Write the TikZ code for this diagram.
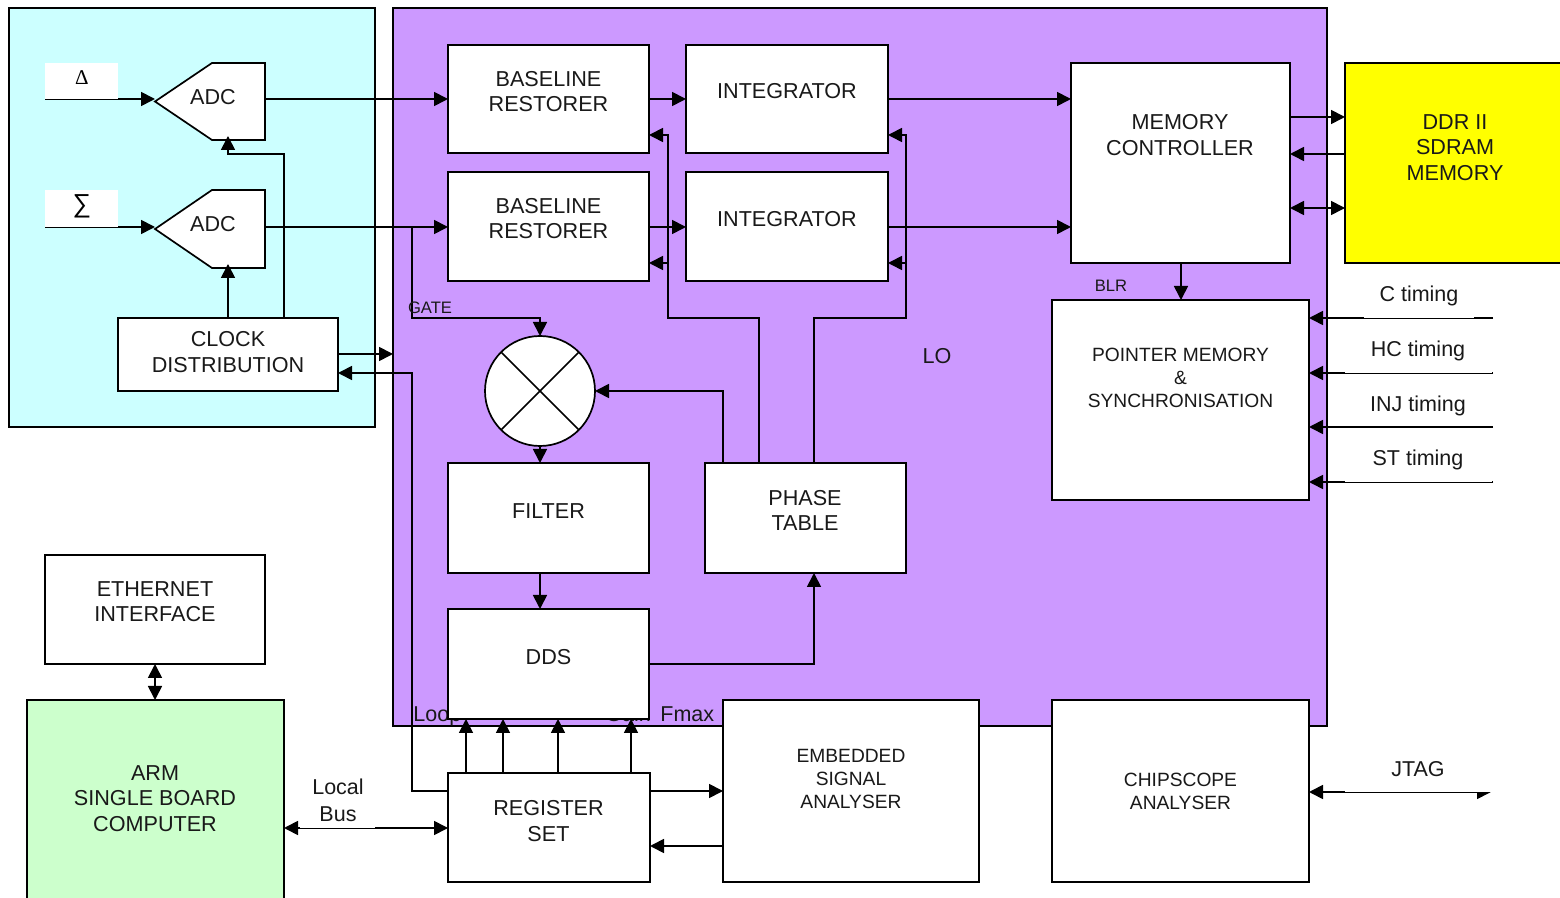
\documentclass[tikz,border=0pt]{standalone}
\usepackage{fontspec}
\setmainfont{Liberation Sans}
\newfontfamily\symfont{Liberation Serif}
\usetikzlibrary{arrows.meta}
\definecolor{cyanbg}{HTML}{CCFFFF}
\definecolor{purplebg}{HTML}{CC99FF}
\definecolor{greenbg}{HTML}{CCFFCC}
\definecolor{yellowbg}{HTML}{FFFF00}
\tikzset{
  panel/.style={draw=black,line width=1pt},
  bx/.style n args={2}{draw=black,fill=white,line width=0.85pt,inner sep=0pt,outer sep=0pt,minimum width=#1*0.5pt,minimum height=#2*0.5pt},
  phantombox/.style n args={2}{inner sep=0pt,outer sep=0pt,minimum width=#1*0.5pt,minimum height=#2*0.5pt},
  big/.style={inner sep=0pt,align=center,text=black!90,font=\fontsize{10.8}{12.6}\selectfont},
  small/.style={inner sep=0pt,align=center,text=black!90,font=\fontsize{9.6}{11.5}\selectfont},
  tiny/.style={inner sep=0pt,text=black!90,font=\fontsize{8.3}{10}\selectfont},
  lab/.style={inner sep=0pt,align=center,text=black!90,font=\fontsize{10.75}{13.5}\selectfont},
  wire/.style={draw=black,line width=0.85pt},
  arr/.style={wire,-{Triangle[length=7pt,width=7pt]}},
  darr/.style={wire,{Triangle[length=7pt,width=7pt]}-{Triangle[length=7pt,width=7pt]}},
}
\begin{document}
\begin{tikzpicture}[x=0.5pt,y=-0.5pt]
\clip (0,0) rectangle (1560,898);
\fill[white] (0,0) rectangle (1560,898);
% panels
\node[bx={366}{419},fill=cyanbg,panel] (adcpanel) at (192,217.5) {};
\node[bx={934}{718},fill=purplebg,panel] (fpga) at (860,367) {};
% free wire ends
\coordinate (dIn) at (45,99);
\coordinate (sIn) at (45,227);
\coordinate (cEnd) at (1493,318);
\coordinate (hEnd) at (1493,373);
\coordinate (iEnd) at (1493,427);
\coordinate (stEnd) at (1493,482);
\coordinate (jEnd) at (1491,792);
% labels partly hidden beneath the DDS block
\node[lab,anchor=base west] (loopT) at (413,722) {Loop};
\node[lab,anchor=base west] (gainT) at (605,722) {Gain};
\node[lab,anchor=base west] (fmaxT) at (660,722) {Fmax};
% boxes
\node[bx={201}{108}] (bl1) at (548.5,99) {};
\node[bx={201}{109}] (bl2) at (548.5,226.5) {};
\node[bx={202}{108}] (int1) at (787,99) {};
\node[bx={202}{109}] (int2) at (787,226.5) {};
\node[bx={219}{200}] (mc) at (1180.5,163) {};
\node[bx={257}{200}] (ptr) at (1180.5,400) {};
\node[bx={220}{200},fill=yellowbg] (ddr) at (1455,163) {};
\node[bx={220}{73}] (clk) at (228,354.5) {};
\node[bx={201}{110}] (filt) at (548.5,518) {};
\node[bx={201}{110}] (phase) at (805.5,518) {};
\node[bx={201}{110}] (dds) at (548.5,664) {};
\node[bx={202}{109}] (reg) at (549,827.5) {};
\node[bx={256}{182}] (emb) at (851,791) {};
\node[bx={257}{182}] (chip) at (1180.5,791) {};
\node[bx={220}{109}] (eth) at (155,609.5) {};
\node[bx={257}{210},fill=greenbg] (arm) at (155.5,805) {};
\node[draw=black,fill=white,line width=0.85pt,circle,inner sep=0pt,outer sep=0pt,minimum size=55pt] (mix) at (540,391) {};
\draw[wire] (mix.45) -- (mix.225);
\draw[wire] (mix.135) -- (mix.315);
% ADC shapes
\node[phantombox={110}{77}] (adc1) at (210,101.5) {};
\node[phantombox={110}{78}] (adc2) at (210,229) {};
\draw[bx={1}{1}] (adc1.west) -- (212,63) -- (adc1.north east) -- (adc1.south east) -- (212,140) -- cycle;
\draw[bx={1}{1}] (adc2.west) -- (212,190) -- (adc2.north east) -- (adc2.south east) -- (212,268) -- cycle;
% inputs with white label boxes
\draw[arr] (dIn) -- (adc1.west |- dIn);
\draw[arr] (sIn) -- (adc2.west |- sIn);
\fill[white] (45,63) rectangle (118,99);
\fill[white] (45,190) rectangle (118,227);
% signal path
\draw[arr] (adc1.east |- dIn) -- (bl1.west |- dIn);
\draw[arr] (adc2.east |- sIn) -- (bl2.west |- sIn);
\draw[arr] (bl1.east |- dIn) -- (int1.west |- dIn);
\draw[arr] (bl2.east |- sIn) -- (int2.west |- sIn);
\draw[arr] (int1.east |- dIn) -- (mc.west |- dIn);
\draw[arr] (int2.east |- sIn) -- (mc.west |- sIn);
% clock
\draw[arr] (clk.north -| 228,0) -- (228,264);
\draw[arr] (clk.north -| 284,0) -- (284,154) -- (228,154) -- (228,136);
\draw[arr] (clk.east |- 0,354) -- (fpga.west |- 0,354);
\draw[arr] (reg.west |- 0,791) -- (412,791) -- (412,373) -- (clk.east |- 0,373);
% gate
\draw[arr] (412,227) -- (412,318) -- (540,318) -- (mix.north);
\draw[arr] (mix.south) -- (filt.north -| 540,0);
\draw[arr] (filt.south -| 540,0) -- (dds.north -| 540,0);
\draw[arr] (dds.east |- 0,664) -- (814,664) -- (phase.south -| 814,0);
\draw[arr] (phase.north -| 723,0) -- (723,391) -- (mix.east);
\draw[arr] (phase.north -| 759,0) -- (759,318) -- (668,318) -- (668,135) -- (bl1.east |- 0,135);
\draw[arr] (668,263) -- (bl2.east |- 0,263);
\draw[arr] (phase.north -| 814,0) -- (814,318) -- (906,318) -- (906,135) -- (int1.east |- 0,135);
\draw[arr] (906,263) -- (int2.east |- 0,263);
% memory
\draw[arr] (mc.east |- 0,117) -- (ddr.west |- 0,117);
\draw[arr] (ddr.west |- 0,154) -- (mc.east |- 0,154);
\draw[darr] (mc.east |- 0,208) -- (ddr.west |- 0,208);
\draw[arr] (mc.south -| 1181,0) -- (ptr.north -| 1181,0);
% timing
\draw[arr] (cEnd) -- (ptr.east |- cEnd);
\draw[arr] (hEnd) -- (ptr.east |- hEnd);
\draw[arr] (iEnd) -- (ptr.east |- iEnd);
\draw[arr] (stEnd) -- (ptr.east |- stEnd);
\draw[darr] (chip.east |- jEnd) -- (jEnd);
\fill[white] (1364,285) rectangle (1474,318);
\fill[white] (1345,340) rectangle (1492,373);
\fill[white] (1345,449) rectangle (1492,482);
\fill[white] (1345,759) rectangle (1492,792);
% registers
\draw[arr] (reg.north -| 466,0) -- (dds.south -| 466,0);
\draw[arr] (reg.north -| 503,0) -- (dds.south -| 503,0);
\draw[arr] (reg.north -| 558,0) -- (dds.south -| 558,0);
\draw[arr] (reg.north -| 631,0) -- (dds.south -| 631,0);
\draw[arr] (reg.east |- 0,791) -- (emb.west |- 0,791);
\draw[arr] (emb.west |- 0,846) -- (reg.east |- 0,846);
% bus
\draw[darr] (arm.east |- 0,828) -- (reg.west |- 0,828);
\fill[white] (300,795) rectangle (375,828);
\draw[darr] (eth.south) -- (arm.north -| eth.south);
% text
\node[inner sep=0pt,font=\symfont\fontsize{10.5}{12}\selectfont] (dT) at (82,78) {Δ};
\node[inner sep=0pt,font=\fontsize{13}{15}\selectfont] (sT) at (82,206) {∑};
\node[big] (adc1T) at (213,97) {ADC};
\node[big] (adc2T) at (213,224) {ADC};
\node[big] (clkT) at (228,352) {CLOCK\\DISTRIBUTION};
\node[big] (bl1T) at (548.5,91.5) {BASELINE\\RESTORER};
\node[big] (bl2T) at (548.5,218.5) {BASELINE\\RESTORER};
\node[big] (int1T) at (787,91) {INTEGRATOR};
\node[big] (int2T) at (787,219) {INTEGRATOR};
\node[big] (mcT) at (1180,135) {MEMORY\\CONTROLLER};
\node[big] (ddrT) at (1455,147.5) {DDR II\\SDRAM\\MEMORY};
\node[small] (ptrT) at (1180.5,378) {POINTER MEMORY\\\&\\SYNCHRONISATION};
\node[tiny] (blrT) at (1111,286) {BLR};
\node[tiny] (gateT) at (430,307.5) {GATE};
\node[big] (loT) at (937,356) {LO};
\node[big] (filtT) at (548.5,511) {FILTER};
\node[big] (phaseT) at (805,510.5) {PHASE\\TABLE};
\node[big] (ddsT) at (548.5,657) {DDS};
\node[big] (regT) at (548.5,821) {REGISTER\\SET};
\node[small] (embT) at (851,779) {EMBEDDED\\SIGNAL\\ANALYSER};
\node[small] (chipT) at (1180.5,791) {CHIPSCOPE\\ANALYSER};
\node[big] (ethT) at (155,601.5) {ETHERNET\\INTERFACE};
\node[big] (armT) at (155,798.5) {ARM\\SINGLE BOARD\\COMPUTER};
\node[lab] (busT) at (338,800) {Local\\Bus};
\node[lab] (cT) at (1419,296) {C timing};
\node[lab] (hT) at (1418,351) {HC timing};
\node[lab] (iT) at (1418,406) {INJ timing};
\node[lab] (sTm) at (1418,460) {ST timing};
\node[lab] (jT) at (1418,769) {JTAG};
\end{tikzpicture}
\end{document}
